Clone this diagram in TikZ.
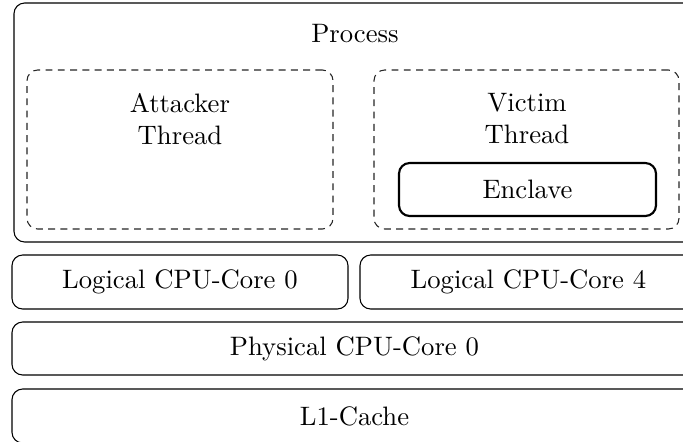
\documentclass[tikz,border=0pt]{standalone}
\begin{document}
\begin{tikzpicture}[x=0.375pt,y=-0.375pt,
  box/.style={draw=black, line width=0.4pt, rounded corners=4pt, inner sep=0pt, font=\fontsize{10}{12}\selectfont},
  dbox/.style={draw=black!85, line width=0.4pt, rounded corners=4pt, inner sep=0pt, dash pattern=on 2.6pt off 2pt},
  ebox/.style={draw=black, line width=0.8pt, rounded corners=4pt, inner sep=0pt, font=\fontsize{10}{12}\selectfont},
  lbl/.style={inner sep=0pt, align=center, font=\fontsize{10}{12}\selectfont}]
\path[use as bounding box, clip] (0,0) rectangle (683,441);
\fill[white] (0,0) rectangle (683,441);
\node[box, minimum width=255.75pt, minimum height=89.625pt] (process) at (355,122.5) {};
\node[lbl, anchor=base] (processlbl) at (355,42) {Process};
\node[dbox, minimum width=114.75pt, minimum height=59.625pt] (attacker) at (180,149.5) {};
\node[lbl, anchor=north] (attackerlbl) at (180,92.5) {Attacker\\Thread};
\node[dbox, minimum width=114.375pt, minimum height=59.625pt] (victim) at (526.5,149.5) {};
\node[lbl, anchor=north] (victimlbl) at (527,92.5) {Victim\\Thread};
\node[ebox, minimum width=96.375pt, minimum height=19.875pt] (enclave) at (527.5,189.5) {Enclave};
\node[box, minimum width=126pt, minimum height=20.25pt] (log0) at (180,282) {Logical CPU-Core 0};
\node[box, minimum width=126.375pt, minimum height=20.25pt] (log4) at (528.5,282) {Logical CPU-Core 4};
\node[box, minimum width=256.875pt, minimum height=19.875pt] (phys) at (354.5,348.5) {Physical CPU-Core 0};
\node[box, minimum width=256.875pt, minimum height=20.25pt] (l1) at (354.5,416) {L1-Cache};
\end{tikzpicture}
\end{document}
